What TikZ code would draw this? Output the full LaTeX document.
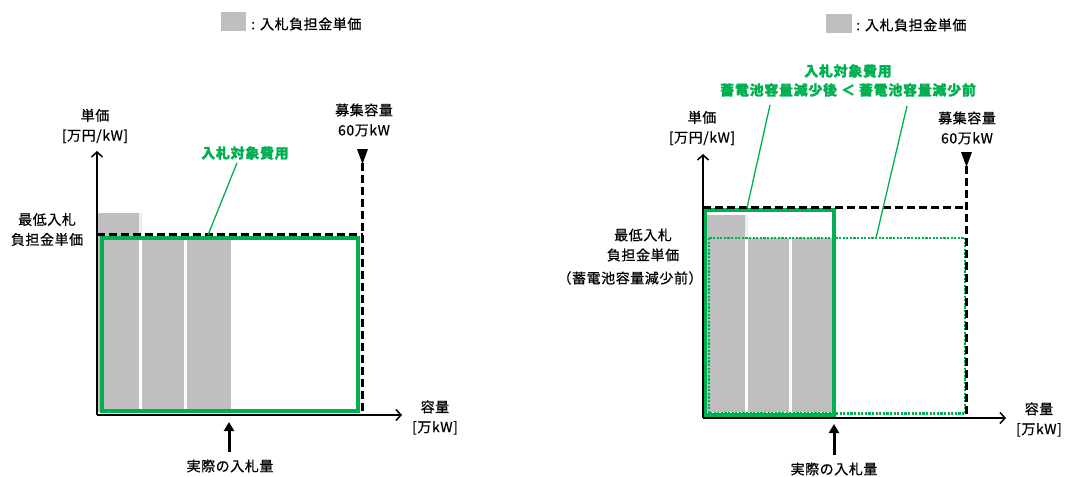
\documentclass[tikz,border=0pt]{standalone}
\usepackage{fontspec}
\newfontfamily\jp[LetterSpace=4,FakeBold=0.6]{Noto Sans CJK JP}
\newfontfamily\jpb[LetterSpace=5,FakeBold=1.2]{Noto Sans CJK JP}
\usetikzlibrary{arrows.meta}
\definecolor{grn}{HTML}{00B050}
\definecolor{gry}{HTML}{BFBFBF}
\definecolor{lgry}{HTML}{EEEEEE}
\begin{document}
\begin{tikzpicture}[x=1pt,y=-1pt,
  txt/.style={font=\jp\fontsize{14}{20}\selectfont, align=center, inner sep=0pt},
  gtxt/.style={font=\jpb\bfseries\fontsize{14}{19}\selectfont, text=grn, align=center, inner sep=0pt},
  axis/.style={line width=1.5pt, -{Straight Barb[length=5pt,width=11pt,line width=1.5pt]}},
  bar/.style={fill=gry},
  strip/.style={fill=lgry},
  cost/.style={draw=grn, line width=4pt},
  costb/.style={draw=grn, line width=2.8pt, dash pattern=on 2.2pt off 1.4pt},
  capline/.style={line width=2.5pt, dash pattern=on 8pt off 4pt},
  lead/.style={draw=grn, line width=1.3pt},
  bidarrow/.style={line width=3pt, -{Triangle[length=9pt,width=10pt]}},
  tri/.style={fill=black},
]
\useasboundingbox (0,0) rectangle (1083,476);

% ================= LEFT PANEL =================
% legend
\fill[gry] (221,12) rectangle (246,31);
\node[txt, anchor=west] (legL) at (251,24) {: 入札負担金単価};

% bars
\fill[bar] (98,213) rectangle (139,412);
\fill[strip] (139,213) rectangle (142,236);
\fill[bar] (142,237) rectangle (184,412);
\fill[bar] (187,237) rectangle (231,412);

% cost rectangle
\draw[cost] (101.5,237.5) rectangle (358,411);

% recruitment capacity dashed lines
\coordinate (capTopL) at (362.5,163);
\coordinate (capBotL) at (362.5,415);
\coordinate (priceL) at (97,234.5);
\draw[capline] (priceL) -- (362.5,234.5);
\draw[capline] (capTopL) -- (capBotL);
\fill[tri] (357,149) -- (368,149) -- (362.5,164) -- cycle;

% axes
\coordinate (OL) at (97,415);
\coordinate (YL) at (97,151);
\coordinate (XL) at (402,415);
\draw[axis] (OL) -- (YL);
\draw[axis] (OL) -- (XL);

% labels
\node[txt] (yLabL) at (95,126) {単価\\{[万円/kW]}};
\node[txt] (capL) at (364,120) {募集容量\\60万kW};
\node[txt] (minL) at (47,229.5) {最低入札\\負担金単価};
\node[txt] (xLabL) at (435,417.5) {容量\\{[万kW]}};
\node[txt] (actL) at (230,466) {実際の入札量};
\node[gtxt] (costL) at (245,153) {入札対象費用};

% leader and bid arrow
\coordinate (costLpt) at (208,235);
\draw[lead] ([xshift=-8pt,yshift=-3pt]costL.south) -- (costLpt);
\coordinate (bidL) at (229,422);
\draw[bidarrow] ([xshift=-1pt,yshift=7pt]actL.north) -- (bidL);

% ================= RIGHT PANEL =================
% legend
\fill[gry] (826,14) rectangle (852,33);
\node[txt, anchor=west] (legR) at (856,25) {: 入札負担金単価};

% bars
\fill[bar] (707,215) rectangle (745,412);
\fill[strip] (745,215) rectangle (748,237);
\fill[bar] (748,238) rectangle (789,412);
\fill[bar] (792,238) rectangle (833,412);

% dotted cost rectangle (before reduction)
\draw[costb] (709,238) rectangle (965,413.5);
% thick cost rectangle (after reduction)
\draw[cost] (705,209.5) rectangle (834,415);

% recruitment capacity dashed lines
\coordinate (capTopR) at (966.5,166);
\coordinate (capBotR) at (966.5,418);
\coordinate (priceR) at (703,207.5);
\draw[capline] (priceR) -- (966.5,207.5);
\draw[capline] (capTopR) -- (capBotR);
\fill[tri] (961,152) -- (972,152) -- (966.5,167) -- cycle;

% axes
\coordinate (OR) at (703,418);
\coordinate (YR) at (703,154);
\coordinate (XR) at (1006,418);
\draw[axis] (OR) -- (YR);
\draw[axis] (OR) -- (XR);

% labels
\node[txt] (yLabR) at (702,128) {単価\\{[万円/kW]}};
\node[txt] (capR) at (967,128) {募集容量\\60万kW};
\node[txt] (minR) at (643,245) {最低入札\\負担金単価};
\node[txt] (minR2) at (630,278) {（蓄電池容量減少前）};
\node[txt] (xLabR) at (1039,419.5) {容量\\{[万kW]}};
\node[txt] (actR) at (834,469) {実際の入札量};
\node[gtxt] (costR) at (848,80.5) {入札対象費用\\蓄電池容量減少後 ＜ 蓄電池容量減少前};

% leaders and bid arrow
\coordinate (leadR1a) at (770,105);
\coordinate (leadR1b) at (747,208);
\coordinate (leadR2a) at (907,106);
\coordinate (leadR2b) at (876,238);
\draw[lead] (leadR1a) -- (leadR1b);
\draw[lead] (leadR2a) -- (leadR2b);
\coordinate (bidR) at (834,424);
\draw[bidarrow] ([yshift=7pt]actR.north) -- (bidR);
\end{tikzpicture}
\end{document}
